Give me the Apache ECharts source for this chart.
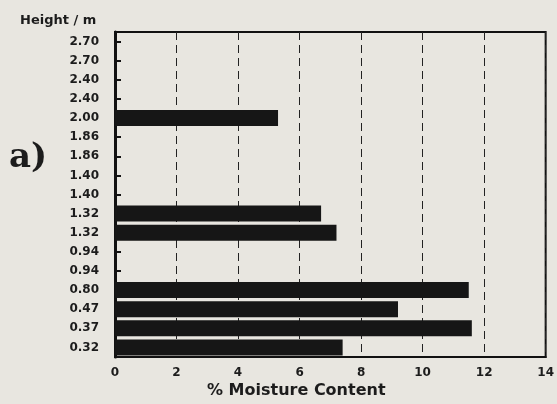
<!DOCTYPE html>
<html>
<head>
<meta charset="utf-8">
<script src="https://cdn.jsdelivr.net/npm/echarts@6/dist/echarts.min.js"></script>
<style>
html, body { margin: 0; padding: 0; background: #e8e6e0; }
#moisture_chart { width: 557px; height: 404px; }
</style>
</head>
<body>
<div id="moisture_chart"></div>
<script>
// heights read top to bottom
let heights = ['2.70','2.70','2.40','2.40','2.00','1.86','1.86','1.40','1.40','1.32','1.32','0.94','0.94','0.80','0.47','0.37','0.32'];
let moisture = [null, null, null, null, 5.3, null, null, null, null, 6.7, 7.2, null, null, 11.5, 9.2, 11.6, 7.4];
let x_ticks = [0, 2, 4, 6, 8, 10, 12, 14];

let font = 'DejaVu Sans';

let moisture_option = {
    backgroundColor: '#e8e6e0',
    animation: false,
    title: {
        text: 'Height / m',
        left: 15,
        top: 9,
        textStyle: {
            color: '#1c1c1c',
            fontFamily: font,
            fontSize: 13,
            fontWeight: 'bold'
        }
    },
    grid: {
        left: 115,
        top: 32,
        right: 2,
        bottom: 47,
        show: true,
        borderColor: '#111',
        borderWidth: 2,
        backgroundColor: 'transparent'
    },
    xAxis: {
        type: 'value',
        min: x_ticks[0],
        max: x_ticks[x_ticks.length - 1],
        interval: 2,
        axisLine: {
            show: true,
            lineStyle: { color: '#111', width: 2 }
        },
        axisTick: { show: false },
        axisLabel: {
            margin: 10,
            color: '#1c1c1c',
            fontFamily: font,
            fontSize: 12,
            fontWeight: 'bold'
        },
        splitLine: {
            lineStyle: {
                color: '#222',
                width: 1,
                type: [8, 5]
            }
        }
    },
    yAxis: {
        type: 'category',
        inverse: true,
        data: heights,
        axisLine: {
            show: true,
            lineStyle: { color: '#111', width: 3 }
        },
        axisTick: {
            show: true,
            inside: true,
            alignWithLabel: true,
            length: 6,
            lineStyle: { color: '#111', width: 2 }
        },
        axisLabel: {
            margin: 16,
            color: '#1c1c1c',
            fontFamily: font,
            fontSize: 12,
            fontWeight: 'bold'
        },
        splitLine: { show: false }
    },
    series: [
        {
            name: 'moisture',
            type: 'bar',
            barWidth: 16,
            itemStyle: { color: '#161616' },
            data: moisture
        }
    ],
    graphic: [
        {
            type: 'text',
            left: 9,
            top: 141,
            style: {
                text: 'a)',
                fill: '#1c1c1c',
                font: 'bold 34px "DejaVu Serif"'
            }
        },
        {
            type: 'text',
            left: 207,
            top: 383,
            style: {
                text: '% Moisture Content',
                fill: '#1c1c1c',
                font: 'bold 16px "DejaVu Sans"'
            }
        }
    ]
};

let moisture_chart = echarts.init(document.getElementById('moisture_chart'));
moisture_chart.setOption(moisture_option);
</script>
</body>
</html>
